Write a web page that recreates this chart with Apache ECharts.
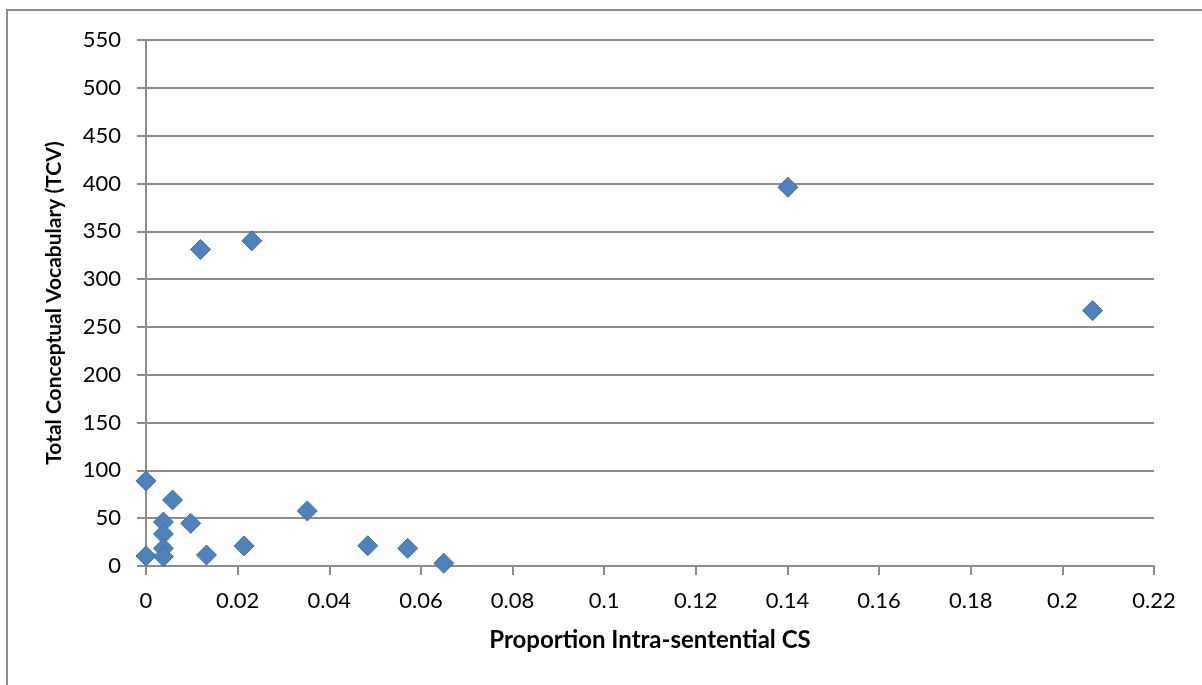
<!DOCTYPE html>
<html>
<head>
<meta charset="utf-8">
<script src="https://cdn.jsdelivr.net/npm/echarts@6/dist/echarts.min.js"></script>
<style>
  html, body { margin: 0; padding: 0; background: #fff; }
  #chart { width: 1202px; height: 685px; }
</style>
</head>
<body>
<div id="chart"></div>
<script>
// proportion of intra-sentential CS (x) and TCV (y)
var propCS = [0, 0, 0.0038, 0.0038, 0.0038, 0.0038, 0.0058, 0.00975, 0.0119, 0.0132,
  0.0214, 0.0231, 0.0352, 0.0484, 0.0571, 0.065, 0.1401, 0.2066];
var tcv = [89, 10.5, 46, 33.5, 18.5, 9.8, 69, 44.6, 331, 11.5,
  21, 340, 57.5, 21.2, 18.5, 2.8, 396, 267];

var xTicks = { min: 0, max: 0.22, interval: 0.02 };
var yTicks = { min: 0, max: 550, interval: 50 };

var points = propCS.map(function (x, i) { return [x, tcv[i]]; });

var chart = echarts.init(document.getElementById('chart'));
var font = 'Lato, "Open Sans", sans-serif';

chart.setOption({
  animation: false,
  textStyle: { fontFamily: font },
  graphic: [{
    type: 'rect',
    shape: { x: 7, y: 10, width: 1400, height: 900 },
    style: { fill: 'none', stroke: '#8c8c8c', lineWidth: 2 },
    silent: true
  }],
  grid: { left: 146, right: 48, top: 40, bottom: 119 },
  xAxis: {
    type: 'value',
    min: xTicks.min, max: xTicks.max, interval: xTicks.interval,
    name: 'Proportion Intra-sentential CS',
    nameLocation: 'middle',
    nameGap: 62,
    nameTextStyle: { fontFamily: font, fontSize: 24, fontWeight: 'bold', color: '#000' },
    axisLine: { show: true, onZero: false, lineStyle: { color: '#8c8c8c', width: 2 } },
    axisTick: { show: true, length: 9, lineStyle: { color: '#8c8c8c', width: 2 } },
    axisLabel: {
      margin: 24, fontSize: 22, color: '#000', fontFamily: font,
      formatter: function (v) { return String(+v.toFixed(2)); }
    },
    splitLine: { show: false }
  },
  yAxis: {
    type: 'value',
    min: yTicks.min, max: yTicks.max, interval: yTicks.interval,
    name: 'Total Conceptual Vocabulary (TCV)',
    nameLocation: 'middle',
    nameGap: 81,
    nameTextStyle: { fontFamily: font, fontSize: 21, fontWeight: 'bold', color: '#000' },
    axisLine: { show: true, lineStyle: { color: '#8c8c8c', width: 2 } },
    axisTick: { show: true, length: 9, lineStyle: { color: '#8c8c8c', width: 2 } },
    axisLabel: { margin: 25, fontSize: 22, color: '#000', fontFamily: font },
    splitLine: { show: true, lineStyle: { color: '#8c8c8c', width: 2 } }
  },
  series: [{
    type: 'scatter',
    symbol: 'diamond',
    symbolSize: 20,
    data: points,
    itemStyle: { color: '#4F81BD', borderColor: '#3F6FA8', borderWidth: 1, opacity: 1 }
  }]
});
</script>
</body>
</html>
